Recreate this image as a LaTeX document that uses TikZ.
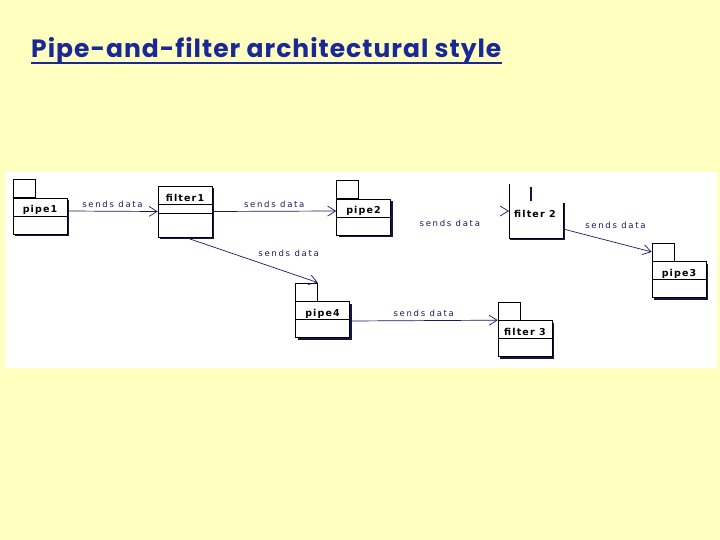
\documentclass[tikz,border=0pt]{standalone}
\usepackage{fontspec}
\usetikzlibrary{arrows.meta, positioning, calc, shadows}
\newfontfamily\lblfont[LetterSpace=20]{DejaVu Sans}
\newfontfamily\boxfont[LetterSpace=12]{DejaVu Sans}
\newfontfamily\ttlfont[LetterSpace=4]{Poppins}
\definecolor{mybg}{RGB}{255,255,192}
\definecolor{mynavy}{RGB}{25,25,100}
\definecolor{myshadow}{RGB}{20,20,70}
\definecolor{mytitle}{RGB}{25,40,150}
\tikzset{
  pkg/.style={rectangle, draw=black, fill=white, line width=0.6pt,
    minimum width=54pt, minimum height=36pt, inner sep=0pt,
    drop shadow={shadow xshift=2pt, shadow yshift=-2pt, fill=myshadow, opacity=1},
    path picture={\draw[line width=0.6pt] (path picture bounding box.west) -- (path picture bounding box.east);}},
  cls/.style={rectangle, draw=black, fill=white, line width=0.6pt,
    minimum width=54pt, minimum height=51pt, inner sep=0pt,
    drop shadow={shadow xshift=2pt, shadow yshift=-2pt, fill=myshadow, opacity=1}},
  pkgtab/.style={rectangle, draw=black, fill=white, line width=0.6pt,
    minimum width=22pt, minimum height=18pt, inner sep=0pt, anchor=south west},
  pkgname/.style={font=\boxfont\bfseries\fontsize{9.5}{10}\selectfont, anchor=base, inner sep=0pt},
  lbl/.style={font=\lblfont\fontsize{8.5}{9}\selectfont, text=mynavy},
  arrow/.style={-{Straight Barb[length=8pt, width=10pt]}, line width=0.7pt, color=mynavy}
}
\begin{document}
\begin{tikzpicture}[x=1pt, y=-1pt]
  \useasboundingbox (0,0) rectangle (720,540);
  \fill[mybg] (0,0) rectangle (720,540);
  \fill[white] (5,172) rectangle (717,368);

  % Title
  \node[font=\ttlfont\bfseries\fontsize{25}{28}\selectfont, text=mytitle, anchor=base west, inner sep=0pt] (ttl) at (31,58) {Pipe-and-filter architectural style};
  \draw[mytitle, line width=1.5pt] ([yshift=-5pt]ttl.base west) -- ([yshift=-5pt]ttl.base east);

  % Nodes
  \node[pkg] (p1) at (40,216) {};
  \node[pkgtab] (t1) at (p1.north west) {};
  \node[pkgname] (n1) at ([yshift=3pt]p1.center) {pipe1};

  \node[cls] (f1) at (185,211.5) {};
  \draw[line width=0.6pt] ([yshift=7.5pt]f1.west) -- ([yshift=7.5pt]f1.east);
  \draw[line width=0.6pt] ([yshift=-1.5pt]f1.west) -- ([yshift=-1.5pt]f1.east);
  \node[pkgname] (nf1) at ([yshift=9.5pt]f1.center) {filter1};

  \node[pkg] (p2) at (363.5,217) {};
  \node[pkgtab] (t2) at (p2.north west) {};
  \node[pkgname] (n2) at ([yshift=3pt]p2.center) {pipe2};

  \node[minimum width=54pt, minimum height=54pt, inner sep=0pt] (f2) at (536,211) {};
  \draw[myshadow, line width=2pt] ([xshift=1.5pt, yshift=-1pt]f2.south west) -- ([xshift=1pt, yshift=-1pt]f2.south east) -- ([xshift=1pt, yshift=-19pt]f2.north east);
  \draw[line width=0.6pt] (f2.north west) -- (f2.south west) -- (f2.south east) -- ([yshift=-19pt]f2.north east);
  \draw[myshadow, line width=1.6pt] ([xshift=22pt, yshift=-3pt]f2.north west) -- ([xshift=22pt, yshift=-17pt]f2.north west);
  \node[pkgname] (nf2) at ([yshift=-7pt, xshift=-1pt]f2.center) {filter 2};

  \node[pkg] (p3) at (679,279.5) {};
  \node[pkgtab] (t3) at (p3.north west) {};
  \node[pkgname] (n3) at ([yshift=3pt]p3.center) {pipe3};

  \node[pkg] (p4) at (322.5,319.5) {};
  \node[pkgtab] (t4) at (p4.north west) {};
  \node[pkgname] (n4) at ([yshift=3pt]p4.center) {pipe4};

  \node[pkg] (f3) at (525,338.5) {};
  \node[pkgtab] (t5) at (f3.north west) {};
  \node[pkgname] (nf3) at ([yshift=3pt]f3.center) {filter 3};

  % Connections
  \draw[arrow] ([yshift=5pt]p1.east) -- node[lbl, above] {sends data} (f1.west);
  \draw[arrow] (f1.east) -- node[lbl, above] {sends data} ([yshift=6pt]p2.west);
  \path (p2.east) -- node[lbl, yshift=-9pt] {sends data} (f2.west);
  \draw[arrow] ([xshift=-1pt]f2.west) -- (f2.west);
  \draw[arrow] (f1.south) -- node[lbl, pos=0.75, xshift=4pt, yshift=18pt] {sends data} (t4.north east);
  \draw[arrow] ([yshift=-18pt]f2.east) -- node[lbl, midway, xshift=8pt, yshift=15pt] {sends data} (t3.west);
  \draw[arrow] ([yshift=-1.5pt]p4.east) -- node[lbl, above] {sends data} (f3.north west);

\end{tikzpicture}
\end{document}
